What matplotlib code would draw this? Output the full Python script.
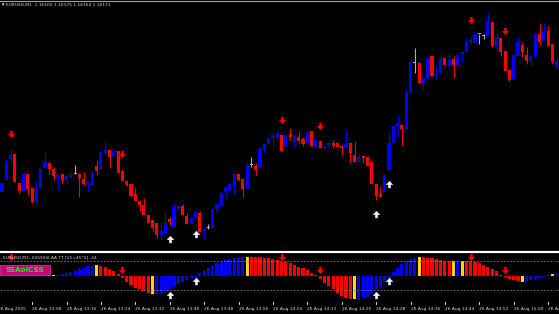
import matplotlib
matplotlib.use("Agg")
import matplotlib.pyplot as plt
import numpy as np
from matplotlib.path import Path
from matplotlib.patches import Rectangle

# EURUSD M1 candles, 130 bars starting 26 Aug 13:01
opens = [1.16040, 1.16052, 1.16073, 1.16078, 1.16049, 1.16041, 1.16058, 1.16044, 1.16030, 1.16044,
         1.16064, 1.16069, 1.16063, 1.16055, 1.16058, 1.16052, 1.16055, 1.16058, 1.16058, 1.16053,
         1.16049, 1.16047, 1.16066, 1.16063, 1.16079, 1.16082, 1.16076, 1.16081, 1.16061, 1.16051,
         1.16048, 1.16038, 1.16031, 1.16027, 1.16017, 1.16012, 1.16009, 1.15997, 1.15999, 1.16013,
         1.16005, 1.16023, 1.16026, 1.16016, 1.16008, 1.16015, 1.16019, 1.16001, 1.16004, 1.16004,
         1.16023, 1.16026, 1.16040, 1.16043, 1.16046, 1.16058, 1.16053, 1.16043, 1.16067, 1.16066,
         1.16065, 1.16082, 1.16088, 1.16094, 1.16095, 1.16097, 1.16086, 1.16098, 1.16090, 1.16095,
         1.16093, 1.16089, 1.16101, 1.16085, 1.16091, 1.16084, 1.16086, 1.16089, 1.16089, 1.16086,
         1.16084, 1.16089, 1.16077, 1.16070, 1.16076, 1.16075, 1.16070, 1.16048, 1.16038, 1.16040,
         1.16062, 1.16089, 1.16106, 1.16107, 1.16103, 1.16139, 1.16169, 1.16169, 1.16148, 1.16154,
         1.16176, 1.16156, 1.16159, 1.16174, 1.16166, 1.16173, 1.16167, 1.16178, 1.16180, 1.16190,
         1.16189, 1.16198, 1.16196, 1.16196, 1.16210, 1.16185, 1.16194, 1.16181, 1.16162, 1.16153,
         1.16176, 1.16187, 1.16177, 1.16171, 1.16175, 1.16198, 1.16191, 1.16201, 1.16188, 1.16165]
highs = [1.16049, 1.16073, 1.16082, 1.16079, 1.16049, 1.16060, 1.16058, 1.16044, 1.16050, 1.16064,
         1.16079, 1.16070, 1.16065, 1.16058, 1.16058, 1.16058, 1.16060, 1.16067, 1.16058, 1.16060,
         1.16050, 1.16061, 1.16072, 1.16080, 1.16092, 1.16082, 1.16083, 1.16081, 1.16063, 1.16052,
         1.16048, 1.16044, 1.16032, 1.16034, 1.16017, 1.16012, 1.16009, 1.16010, 1.16021, 1.16015,
         1.16029, 1.16026, 1.16028, 1.16019, 1.16014, 1.16020, 1.16021, 1.16004, 1.16008, 1.16025,
         1.16028, 1.16039, 1.16045, 1.16048, 1.16058, 1.16058, 1.16053, 1.16070, 1.16075, 1.16069,
         1.16085, 1.16088, 1.16094, 1.16099, 1.16100, 1.16097, 1.16097, 1.16104, 1.16097, 1.16100,
         1.16095, 1.16102, 1.16101, 1.16092, 1.16092, 1.16086, 1.16091, 1.16092, 1.16090, 1.16086,
         1.16102, 1.16089, 1.16090, 1.16079, 1.16077, 1.16076, 1.16070, 1.16048, 1.16046, 1.16057,
         1.16100, 1.16106, 1.16116, 1.16108, 1.16143, 1.16174, 1.16184, 1.16170, 1.16154, 1.16174,
         1.16176, 1.16166, 1.16178, 1.16174, 1.16179, 1.16176, 1.16177, 1.16180, 1.16194, 1.16196,
         1.16198, 1.16198, 1.16198, 1.16219, 1.16210, 1.16199, 1.16194, 1.16181, 1.16162, 1.16177,
         1.16195, 1.16190, 1.16185, 1.16176, 1.16198, 1.16209, 1.16209, 1.16206, 1.16188, 1.16175]
lows = [1.16040, 1.16052, 1.16070, 1.16050, 1.16039, 1.16041, 1.16037, 1.16029, 1.16029, 1.16044,
        1.16064, 1.16058, 1.16052, 1.16042, 1.16049, 1.16048, 1.16054, 1.16058, 1.16035, 1.16047,
        1.16040, 1.16047, 1.16057, 1.16063, 1.16079, 1.16064, 1.16076, 1.16059, 1.16051, 1.16046,
        1.16035, 1.16031, 1.16021, 1.16017, 1.16009, 1.16001, 1.15994, 1.15992, 1.15999, 1.16007,
        1.16005, 1.16023, 1.16017, 1.16008, 1.16008, 1.16015, 1.16000, 1.15992, 1.16003, 1.16004,
        1.16019, 1.16026, 1.16034, 1.16042, 1.16038, 1.16051, 1.16035, 1.16043, 1.16065, 1.16057,
        1.16065, 1.16079, 1.16088, 1.16085, 1.16091, 1.16081, 1.16086, 1.16092, 1.16085, 1.16089,
        1.16086, 1.16089, 1.16086, 1.16085, 1.16084, 1.16083, 1.16085, 1.16084, 1.16085, 1.16077,
        1.16084, 1.16069, 1.16070, 1.16070, 1.16069, 1.16066, 1.16048, 1.16032, 1.16035, 1.16040,
        1.16062, 1.16089, 1.16095, 1.16087, 1.16103, 1.16139, 1.16159, 1.16149, 1.16142, 1.16154,
        1.16156, 1.16152, 1.16159, 1.16167, 1.16166, 1.16154, 1.16167, 1.16170, 1.16180, 1.16187,
        1.16189, 1.16188, 1.16193, 1.16196, 1.16185, 1.16180, 1.16176, 1.16161, 1.16151, 1.16153,
        1.16176, 1.16175, 1.16168, 1.16167, 1.16175, 1.16187, 1.16191, 1.16186, 1.16168, 1.16164]
closes = [1.16049, 1.16069, 1.16077, 1.16050, 1.16041, 1.16058, 1.16043, 1.16030, 1.16045, 1.16063,
          1.16070, 1.16063, 1.16056, 1.16057, 1.16052, 1.16056, 1.16057, 1.16058, 1.16054, 1.16048,
          1.16050, 1.16059, 1.16061, 1.16080, 1.16082, 1.16075, 1.16080, 1.16059, 1.16051, 1.16047,
          1.16036, 1.16031, 1.16027, 1.16017, 1.16009, 1.16004, 1.15997, 1.16001, 1.16009, 1.16010,
          1.16025, 1.16026, 1.16017, 1.16008, 1.16014, 1.16020, 1.16000, 1.16004, 1.16004, 1.16023,
          1.16028, 1.16039, 1.16045, 1.16048, 1.16058, 1.16052, 1.16043, 1.16066, 1.16067, 1.16062,
          1.16083, 1.16088, 1.16094, 1.16097, 1.16099, 1.16081, 1.16097, 1.16095, 1.16097, 1.16091,
          1.16088, 1.16099, 1.16086, 1.16092, 1.16084, 1.16086, 1.16089, 1.16086, 1.16085, 1.16084,
          1.16088, 1.16079, 1.16070, 1.16075, 1.16074, 1.16066, 1.16048, 1.16036, 1.16035, 1.16057,
          1.16089, 1.16106, 1.16108, 1.16103, 1.16139, 1.16170, 1.16169, 1.16149, 1.16154, 1.16174,
          1.16156, 1.16159, 1.16174, 1.16167, 1.16172, 1.16167, 1.16177, 1.16180, 1.16190, 1.16192,
          1.16198, 1.16198, 1.16196, 1.16211, 1.16186, 1.16195, 1.16180, 1.16161, 1.16152, 1.16177,
          1.16190, 1.16180, 1.16171, 1.16176, 1.16198, 1.16190, 1.16200, 1.16186, 1.16170, 1.16171]

# signal arrows on the price chart
sell_bars = [2, 28, 65, 74, 109, 117]
sell_prices = [1.16098, 1.16078, 1.16112, 1.16106, 1.16212, 1.16201]
buy_bars = [39, 45, 87, 90]
buy_prices = [1.15993, 1.15998, 1.16018, 1.16048]

# oscillator histogram (bars before 12 are not drawn)
osc_vals = [0, 0, 0, 0, 0, 0, 0, 0, 0, 0, 0, 0,
            0.7, 1.0, 1.7, 2.7, 3.7, 5.0, 6.7, 8.3, 9.7, 10.3, 11.0, 10.3, 9.0, 7.0, 5.3, 1.7,
            -2.3, -5.7, -9.0, -12.3, -13.3, -15.0, -16.7, -18.0, -18.0, -16.7, -14.7, -13.0,
            -10.7, -8.3, -5.7, -4.0, -2.3, -1.0, 2.7, 5.0, 7.7, 10.3, 12.7, 14.3, 16.0, 17.0,
            18.3, 19.0, 19.3, 19.3, 19.3, 19.0, 18.7, 18.3, 17.7, 17.0, 16.0, 14.3, 13.7, 12.7,
            11.0, 9.3, 7.7, 6.0, 3.3, 0.7, -3.3, -6.7, -9.7, -13.0, -16.7, -19.7, -21.7, -23.3,
            -23.3, -24.0, -22.3, -20.7, -17.3, -14.0, -10.7, -5.7, -2.3, 4.3, 8.3, 11.7, 14.3,
            17.0, 18.3, 18.7, 18.7, 18.3, 17.7, 16.7, 16.0, 15.3, 15.0, 15.0, 15.0, 15.3, 15.0,
            14.7, 14.0, 13.0, 11.5, 9.5, 7.5, 5.0, 1.5, -1.0, -3.0, -4.3, -5.3, -5.7, -5.0, -4.0,
            -3.0, -1.7, -0.7, 0.7, 1.7, 2.0]
# histogram colour state as runs: B rising, R falling, Y turning, - none
osc_runs = [("-", 12), ("Y", 1), ("B", 9), ("Y", 1), ("R", 12), ("Y", 1), ("B", 21), ("Y", 1),
            ("R", 24), ("Y", 1), ("B", 14), ("Y", 1), ("R", 7), ("Y", 1), ("B", 1), ("Y", 1),
            ("R", 13), ("Y", 1), ("B", 6), ("Y", 1), ("B", 1)]
osc_sell_bars = [2, 28, 65, 74, 109, 117]
osc_sell_lvl = [19, 6, 19, 6, 19, 6]
osc_buy_bars = [39, 45, 87, 90]
osc_buy_lvl = [-19, -5, -19, -5]

time_bars = [-1 + 8 * k for k in range(17)]
time_labels = ["26 Aug 2025", "26 Aug 13:08", "26 Aug 13:16", "26 Aug 13:24", "26 Aug 13:32",
               "26 Aug 13:40", "26 Aug 13:48", "26 Aug 13:56", "26 Aug 14:04", "26 Aug 14:12",
               "26 Aug 14:20", "26 Aug 14:28", "26 Aug 14:36", "26 Aug 14:44", "26 Aug 14:52",
               "26 Aug 15:00", "26 Aug 15:08"]

W, H = 559, 314
fig = plt.figure(figsize=(W / 100, H / 100), dpi=100, facecolor="black")

def fy(px):
    return 1 - px / H

# main price window: pixel rows 2..251
ax = fig.add_axes([0, fy(251), 1, 249 / H])
ax.set_facecolor("black")
ax.set_xlim(-0.465, 129.53)
ax.set_ylim(1.15981, 1.16230)
ax.axis("off")

idx = np.arange(len(opens))
o = np.array(opens); h = np.array(highs); l = np.array(lows); c = np.array(closes)
cols = np.where(c > o, "#0000ff", np.where(c < o, "#ff0000", "#b0b0b0"))
ax.vlines(idx, l, h, colors=cols, lw=0.75)
body_low = np.minimum(o, c)
body_h = np.maximum(np.abs(c - o), 0.000012)
ax.bar(idx, body_h, bottom=body_low, width=0.72, color=cols, linewidth=0)

# block arrow markers
down_arrow = Path([(-0.18, 0.5), (0.18, 0.5), (0.18, 0.05), (0.5, 0.05), (0, -0.5),
                   (-0.5, 0.05), (-0.18, 0.05), (-0.18, 0.5)], closed=True)
up_arrow = Path([(x, -y) for x, y in down_arrow.vertices], closed=True)

ax.plot(sell_bars, sell_prices, ls="none", marker=down_arrow, ms=5, mfc="#ff0000", mec="#c00000", mew=0.3)
ax.plot(buy_bars, buy_prices, ls="none", marker=up_arrow, ms=5, mfc="white", mec="#a8c8ff", mew=0.3)

# oscillator window: pixel rows 253..301
ax2 = fig.add_axes([0, fy(301), 1, 48 / H])
ax2.set_facecolor("black")
ax2.set_xlim(-0.465, 129.53)
ax2.set_ylim(-25, 23)
ax2.axis("off")

osc_state = "".join(s * n for s, n in osc_runs)
state_col = {"B": "#0000ff", "R": "#ff0000", "Y": "#ffd700"}
for i, (v, s) in enumerate(zip(osc_vals, osc_state)):
    if s == "-":
        continue
    ax2.bar(i, v, width=0.72, color=state_col[s], linewidth=0)
ax2.axhline(15, color="#808080", lw=0.6, ls=(0, (2, 2)))
ax2.axhline(-14, color="#808080", lw=0.6, ls=(0, (2, 2)))
ax2.plot(osc_sell_bars, osc_sell_lvl, ls="none", marker=down_arrow, ms=5, mfc="#ff0000", mec="#c00000", mew=0.3)
ax2.plot(osc_buy_bars, osc_buy_lvl, ls="none", marker=up_arrow, ms=5, mfc="white", mec="#a8c8ff", mew=0.3)

ax2.text(0.2, 18.5, "EURUSD,M1: SSSSSSI AA TT [15>45*5] -44", color="#c8c8c8",
         fontsize=3.2, va="center", ha="left")

# indicator name box
fig.add_artist(Rectangle((0, fy(275)), 50 / W, 10 / H, transform=fig.transFigure,
                         fc="#c8007d", ec="#e040a0", lw=0.5))
fig.text(25 / W, fy(270), "SSAolCSS", color="#00ff00", fontsize=5.2, va="center", ha="center",
         fontweight="bold")

# separator and frame lines
fig.add_artist(plt.Line2D([0, 1], [fy(252), fy(252)], color="white", lw=1.6))
fig.add_artist(plt.Line2D([0, 1], [fy(1), fy(1)], color="#a0a0a0", lw=0.8))

# time axis
tx = ax2.get_xaxis_transform()
for b, lab in zip(time_bars, time_labels):
    ax2.plot([b, b], [-0.02, -0.07], color="white", lw=0.6, transform=tx, clip_on=False)
    ax2.text(b, -0.13, lab, color="#d8d8d8", fontsize=3.2, ha="left", va="top",
             transform=tx, clip_on=False)

# header
fig.text(2 / W, fy(5), "\u25be", color="white", fontsize=3.5, va="center", ha="left")
fig.text(6 / W, fy(5), "EURUSD,M1  1.16165 1.16175 1.16164 1.16171", color="#d8d8d8",
         fontsize=3.15, va="center", ha="left")

fig.savefig("out.png", dpi=100, facecolor="black")
